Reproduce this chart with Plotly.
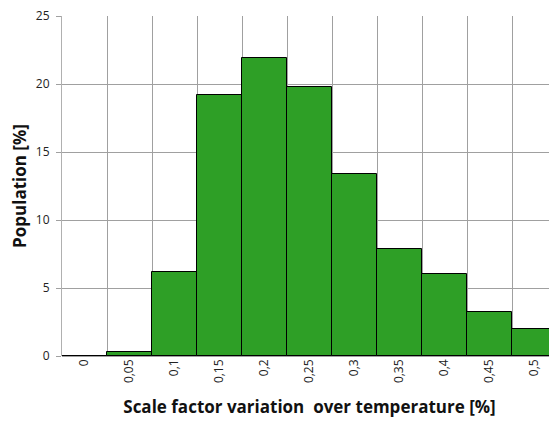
import plotly.graph_objects as go

categories = ["0", "0,05", "0,1", "0,15", "0,2", "0,25", "0,3", "0,35", "0,4", "0,45", "0,5"]
population = [0.0, 0.3, 6.2, 19.2, 21.9, 19.8, 13.35, 7.9, 6.0, 3.2, 1.95]
y_ticks = [0, 5, 10, 15, 20, 25]

fig = go.Figure(
    go.Bar(
        x=categories,
        y=population,
        marker=dict(color="#2e9f26", line=dict(color="#000000", width=1)),
    )
)

font_family = "Open Sans, Noto Sans, DejaVu Sans"

fig.update_layout(
    width=549,
    height=410,
    margin=dict(l=54, r=0, t=8, b=62),
    paper_bgcolor="white",
    plot_bgcolor="white",
    bargap=0,
    showlegend=False,
    font=dict(family=font_family, color="#222222", size=12),
    xaxis=dict(
        type="category",
        tickson="boundaries",
        ticks="",
        showgrid=True,
        gridcolor="#a0a0a0",
        gridwidth=1,
        tickangle=-90,
        tickfont=dict(size=12, color="#222222"),
        showline=False,
        zeroline=False,
        automargin=False,
        title=dict(
            text="<b>Scale factor variation  over temperature [%]</b>",
            font=dict(size=17, color="#111111"),
            standoff=19,
        ),
    ),
    yaxis=dict(
        range=[0, 25],
        tickvals=y_ticks,
        showgrid=True,
        gridcolor="#a0a0a0",
        gridwidth=1,
        ticks="outside",
        ticklen=5,
        tickcolor="#a0a0a0",
        ticklabelstandoff=4,
        showline=True,
        linecolor="#b0b0b0",
        zeroline=True,
        zerolinecolor="#a0a0a0",
        ticklabeloverflow="allow",
        automargin=False,
        tickfont=dict(size=12, color="#222222"),
        title=dict(
            text="<b>Population [%]</b>",
            font=dict(size=17, color="#111111"),
            standoff=13,
        ),
    ),
)

fig.write_html("out.html")
